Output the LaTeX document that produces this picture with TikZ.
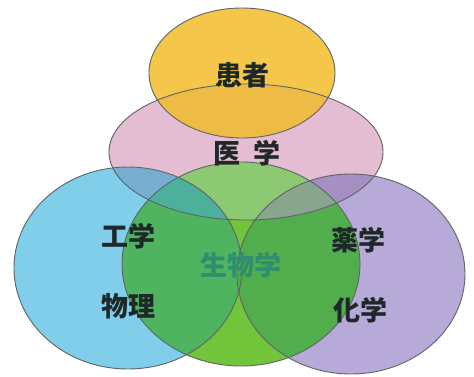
\documentclass[tikz,border=0pt]{standalone}
\usepackage{fontspec}
\newfontfamily\cjk{Noto Sans CJK JP}
\definecolor{cY}{HTML}{F4C64A}
\definecolor{cP}{HTML}{E4BDD3}
\definecolor{cB}{HTML}{80CEEA}
\definecolor{cV}{HTML}{B7A9D8}
\definecolor{cG}{HTML}{72C43A}
\definecolor{cYP}{HTML}{EEBC44}
\definecolor{cPB}{HTML}{76AECF}
\definecolor{cPG}{HTML}{8DC873}
\definecolor{cPGB}{HTML}{4DB09A}
\definecolor{cPV}{HTML}{A58FC3}
\definecolor{cPGV}{HTML}{8AA58E}
\definecolor{cGB}{HTML}{4FB460}
\definecolor{cGV}{HTML}{52AE4C}
\definecolor{edge}{HTML}{5E6466}
\definecolor{txt}{HTML}{1E2828}
\definecolor{bio}{HTML}{2F8E70}
\newcommand{\shY}{(242,73) ellipse [x radius=93pt, y radius=65pt]}
\newcommand{\shP}{(246,152) ellipse [x radius=137pt, y radius=68pt]}
\newcommand{\shB}{(128,268) ellipse [x radius=114pt, y radius=101pt]}
\newcommand{\shV}{(351,274) ellipse [x radius=114pt, y radius=100pt]}
\newcommand{\shG}{(241,264) ellipse [x radius=119pt, y radius=102pt]}
\tikzset{
  lab/.style={font=\cjk\bfseries\fontsize{27}{27}\selectfont, text=txt, inner sep=0pt},
  outline/.style={draw=edge, line width=0.9pt}
}
\begin{document}
\begin{tikzpicture}[x=1pt,y=-1pt]
\useasboundingbox (0,0) rectangle (474,376);
\fill[white] (0,0) rectangle (474,376);
% base fills
\fill[cB] \shB;
\fill[cV] \shV;
\fill[cP] \shP;
\fill[cG] \shG;
\fill[cY] \shY;
% overlaps
\begin{scope}\clip \shP; \fill[cYP] \shY; \end{scope}
\begin{scope}\clip \shP; \fill[cPB] \shB; \fill[cPV] \shV; \fill[cPG] \shG; \end{scope}
\begin{scope}\clip \shG; \fill[cGB] \shB; \fill[cGV] \shV; \end{scope}
\begin{scope}\clip \shP; \clip \shG; \fill[cPGB] \shB; \fill[cPGV] \shV; \end{scope}
% outlines
\draw[outline] \shB;
\draw[outline] \shV;
\draw[outline] \shG;
\draw[outline] \shP;
\draw[outline] \shY;
% labels
\node[lab] (kanja) at (242,75) {患者};
\node[lab] (igaku) at (247,153) {医\hspace{0.5em}学};
\node[lab] (kougaku) at (128,236) {工学};
\node[lab] (butsuri) at (128,306) {物理};
\node[lab, text=bio] (seibutsu) at (241,265) {生物学};
\node[lab] (yakugaku) at (358,240) {薬学};
\node[lab] (kagaku) at (360,310) {化学};
\end{tikzpicture}
\end{document}
